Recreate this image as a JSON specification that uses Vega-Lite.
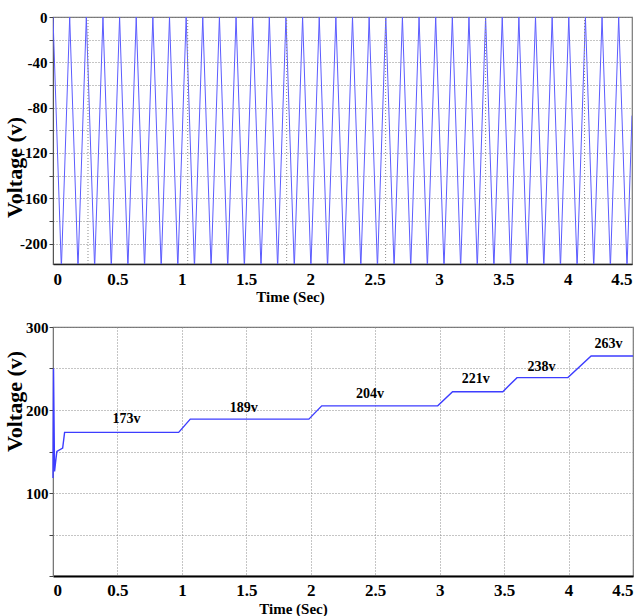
{
  "$schema": "https://vega.github.io/schema/vega-lite/v6.json",
  "background": "white",
  "padding": {"top": 9, "left": 2, "right": 4, "bottom": 0},
  "spacing": 14,
  "config": {
    "view": {"stroke": "#777", "strokeWidth": 1.2},
    "axis": {
      "labelFont": "Liberation Serif", "labelFontWeight": "bold", "labelColor": "#000",
      "titleFont": "Liberation Serif", "titleFontWeight": "bold", "titleColor": "#000",
      "gridColor": "#8a8a8a", "gridDash": [1, 2], "gridWidth": 1,
      "tickColor": "#444", "domainColor": "#444"
    }
  },
  "datasets": {
    "wave": [
      {"t": 0, "v": 0},
      {"t": 0.065, "v": -222}, {"t": 0.1297, "v": 0},
      {"t": 0.1943, "v": -222}, {"t": 0.259, "v": 0},
      {"t": 0.3236, "v": -222}, {"t": 0.3883, "v": 0},
      {"t": 0.4529, "v": -222}, {"t": 0.5176, "v": 0},
      {"t": 0.5822, "v": -222}, {"t": 0.6469, "v": 0},
      {"t": 0.7115, "v": -222}, {"t": 0.7762, "v": 0},
      {"t": 0.8408, "v": -222}, {"t": 0.9055, "v": 0},
      {"t": 0.9701, "v": -222}, {"t": 1.0348, "v": 0},
      {"t": 1.0994, "v": -222}, {"t": 1.1641, "v": 0},
      {"t": 1.2287, "v": -222}, {"t": 1.2934, "v": 0},
      {"t": 1.358, "v": -222}, {"t": 1.4227, "v": 0},
      {"t": 1.4873, "v": -222}, {"t": 1.552, "v": 0},
      {"t": 1.6166, "v": -222}, {"t": 1.6813, "v": 0},
      {"t": 1.7459, "v": -222}, {"t": 1.8106, "v": 0},
      {"t": 1.8752, "v": -222}, {"t": 1.9399, "v": 0},
      {"t": 2.0045, "v": -222}, {"t": 2.0692, "v": 0},
      {"t": 2.1338, "v": -222}, {"t": 2.1985, "v": 0},
      {"t": 2.2631, "v": -222}, {"t": 2.3278, "v": 0},
      {"t": 2.3924, "v": -222}, {"t": 2.4571, "v": 0},
      {"t": 2.5217, "v": -222}, {"t": 2.5864, "v": 0},
      {"t": 2.651, "v": -222}, {"t": 2.7157, "v": 0},
      {"t": 2.7803, "v": -222}, {"t": 2.845, "v": 0},
      {"t": 2.9096, "v": -222}, {"t": 2.9743, "v": 0},
      {"t": 3.0389, "v": -222}, {"t": 3.1036, "v": 0},
      {"t": 3.1682, "v": -222}, {"t": 3.2329, "v": 0},
      {"t": 3.2975, "v": -222}, {"t": 3.3622, "v": 0},
      {"t": 3.4268, "v": -222}, {"t": 3.4915, "v": 0},
      {"t": 3.5561, "v": -222}, {"t": 3.6208, "v": 0},
      {"t": 3.6854, "v": -222}, {"t": 3.7501, "v": 0},
      {"t": 3.8147, "v": -222}, {"t": 3.8794, "v": 0},
      {"t": 3.944, "v": -222}, {"t": 4.0087, "v": 0},
      {"t": 4.0733, "v": -222}, {"t": 4.138, "v": 0},
      {"t": 4.2026, "v": -222}, {"t": 4.2673, "v": 0},
      {"t": 4.3319, "v": -222}, {"t": 4.3966, "v": 0},
      {"t": 4.4612, "v": -222}, {"t": 4.5, "v": -87}
    ],
    "vgrid": [
      {"t": 0.272}, {"t": 1.047}, {"t": 1.816}, {"t": 2.585}, {"t": 3.362}, {"t": 4.131}
    ],
    "dc": [
      {"t": 0.0, "v": 118},
      {"t": 0.004, "v": 250},
      {"t": 0.012, "v": 126},
      {"t": 0.02, "v": 137},
      {"t": 0.03, "v": 150},
      {"t": 0.075, "v": 154},
      {"t": 0.09, "v": 173},
      {"t": 0.975, "v": 173},
      {"t": 1.065, "v": 189},
      {"t": 1.985, "v": 189},
      {"t": 2.085, "v": 205},
      {"t": 2.985, "v": 205},
      {"t": 3.1, "v": 222},
      {"t": 3.49, "v": 222},
      {"t": 3.6, "v": 239},
      {"t": 3.995, "v": 239},
      {"t": 4.175, "v": 265},
      {"t": 4.5, "v": 265}
    ],
    "steps": [
      {"t": 0.57, "v": 189, "label": "173v"},
      {"t": 1.48, "v": 203, "label": "189v"},
      {"t": 2.46, "v": 219, "label": "204v"},
      {"t": 3.28, "v": 237, "label": "221v"},
      {"t": 3.79, "v": 252, "label": "238v"},
      {"t": 4.31, "v": 279.5, "label": "263v"}
    ]
  },
  "vconcat": [
    {
      "width": 579,
      "height": 247,
      "layer": [
        {
          "data": {"name": "wave"},
          "mark": {"type": "line", "color": "#5c5cff", "strokeWidth": 1, "clip": true},
          "encoding": {
            "x": {
              "field": "t", "type": "quantitative",
              "scale": {"domain": [0, 4.5], "nice": false, "zero": false},
              "axis": {
                "values": [0, 0.5, 1, 1.5, 2, 2.5, 3, 3.5, 4, 4.5],
                "labelExpr": "'' + datum.value",
                "grid": false, "ticks": false,
                "labelFontSize": 17, "labelPadding": 7,
                "domainColor": "#222", "domainWidth": 1.5,
                "title": "Time (Sec)", "titleFontSize": 15,
                "titleX": 237, "titleY": 32, "titleBaseline": "middle"
              }
            },
            "y": {
              "field": "v", "type": "quantitative",
              "scale": {"domain": [-218, 0], "nice": false, "zero": false},
              "axis": {
                "values": [-200, -180, -160, -140, -120, -100, -80, -60, -40, -20, 0],
                "labelExpr": "datum.value % 40 == 0 ? (datum.value < 0 ? '-' + (-datum.value) : '0') : ''",
                "grid": true, "tickSize": 4, "labelPadding": 2,
                "labelFontSize": 15,
                "domainColor": "#555",
                "title": "Voltage (v)", "titleFontSize": 22,
                "titleX": -39, "titleY": 150, "titleBaseline": "middle", "titleAngle": -90
              }
            }
          }
        },
        {
          "data": {"name": "vgrid"},
          "mark": {"type": "rule", "color": "#8a8a8a", "strokeDash": [1, 2], "strokeWidth": 1},
          "encoding": {
            "x": {
              "field": "t", "type": "quantitative",
              "scale": {"domain": [0, 4.5], "nice": false, "zero": false},
              "axis": {
                "values": [0, 0.5, 1, 1.5, 2, 2.5, 3, 3.5, 4, 4.5],
                "labelExpr": "'' + datum.value",
                "grid": false, "ticks": false,
                "labelFontSize": 17, "labelPadding": 7,
                "domainColor": "#222", "domainWidth": 1.5,
                "title": "Time (Sec)", "titleFontSize": 15,
                "titleX": 237, "titleY": 32, "titleBaseline": "middle"
              }
            }
          }
        }
      ]
    },
    {
      "width": 580,
      "height": 249,
      "layer": [
        {
          "data": {"name": "dc"},
          "mark": {"type": "line", "color": "#3d3dff", "strokeWidth": 1.4},
          "encoding": {
            "x": {
              "field": "t", "type": "quantitative",
              "scale": {"domain": [0, 4.5], "nice": false, "zero": false},
              "axis": {
                "values": [0, 0.5, 1, 1.5, 2, 2.5, 3, 3.5, 4, 4.5],
                "labelExpr": "'' + datum.value",
                "grid": true, "ticks": false,
                "labelFontSize": 17, "labelPadding": 6,
                "domainColor": "#000", "domainWidth": 2,
                "title": "Time (Sec)", "titleFontSize": 15,
                "titleX": 240, "titleY": 32, "titleBaseline": "middle"
              }
            },
            "y": {
              "field": "v", "type": "quantitative",
              "scale": {"domain": [0, 300], "nice": false, "zero": false},
              "axis": {
                "values": [0, 50, 100, 150, 200, 250, 300],
                "labelExpr": "datum.value % 100 == 0 && datum.value > 0 ? datum.label : ''",
                "grid": true, "tickSize": 4, "labelPadding": 1,
                "labelFontSize": 15,
                "domainColor": "#777",
                "title": "Voltage (v)", "titleFontSize": 22,
                "titleX": -39, "titleY": 74, "titleBaseline": "middle", "titleAngle": -90
              }
            }
          }
        },
        {
          "mark": {"type": "rule", "color": "#000", "strokeWidth": 2},
          "encoding": {"y": {"datum": 300}}
        },
        {
          "data": {"name": "steps"},
          "mark": {"type": "text", "font": "Liberation Serif", "fontWeight": "bold", "fontSize": 14, "color": "#000"},
          "encoding": {
            "x": {"field": "t", "type": "quantitative"},
            "y": {"field": "v", "type": "quantitative"},
            "text": {"field": "label"}
          }
        }
      ]
    }
  ]
}
